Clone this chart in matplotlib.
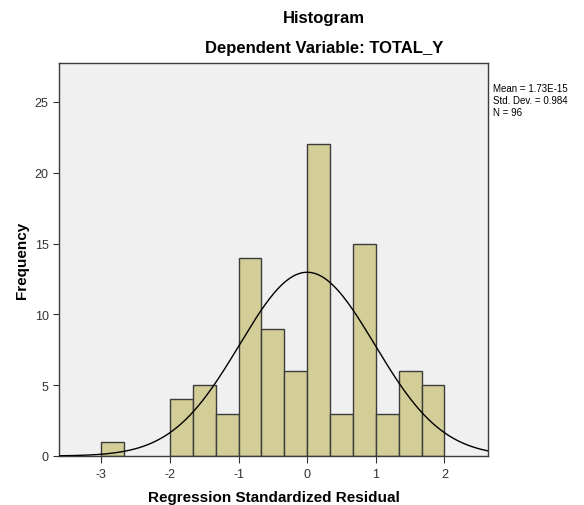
import matplotlib
matplotlib.use("Agg")
import matplotlib.pyplot as plt
import numpy as np

plt.rcParams["font.family"] = ["Liberation Sans", "DejaVu Sans"]
plt.rcParams["axes.unicode_minus"] = False

# 直方图数据（组宽 1/3）
bin_left = [-3.0, -2.0, -5/3, -4/3, -1.0, -2/3, -1/3, 0.0, 1/3, 2/3, 1.0, 4/3, 5/3]
counts = [1, 4, 5, 3, 14, 9, 6, 22, 3, 15, 3, 6, 5]
bin_width = 1/3
mean = 1.73e-15
std = 0.984
n = 96

fig = plt.figure(figsize=(5.84, 5.06), dpi=100)
ax = fig.add_axes([59/584, 1 - 457/506, (488 - 59)/584, (457 - 64)/506])
ax.set_facecolor("#F0F0F0")

ax.bar(bin_left, counts, width=bin_width, align="edge",
       color="#D3CE97", edgecolor="#3C3C3C", linewidth=1.0, zorder=2)

xs = np.linspace(-3.62, 2.64, 400)
ys = n * bin_width / (std * np.sqrt(2 * np.pi)) * np.exp(-0.5 * ((xs - mean) / std) ** 2)
ax.plot(xs, ys, color="black", linewidth=1.0, zorder=3)

ax.set_xlim(-3.615, 2.634)
ax.set_ylim(0, 27.75)
ax.set_xticks([-3, -2, -1, 0, 1, 2])
ax.set_yticks([0, 5, 10, 15, 20, 25])
ax.tick_params(labelsize=9, colors="#333333", length=4, width=0.8)
ax.tick_params(axis="x", length=5)
for s in ax.spines.values():
    s.set_color("#3C3C3C")
    s.set_linewidth(1.0)

ax.set_xlabel("Regression Standardized Residual", fontsize=11, fontweight="bold", labelpad=7)
ax.set_ylabel("Frequency", fontsize=11, fontweight="bold", labelpad=4)

fig.text(324/584, 1 - 18/506, "Histogram", ha="center", va="center",
         fontsize=12, fontweight="bold")
fig.text(324/584, 1 - 48/506, "Dependent Variable: TOTAL_Y", ha="center", va="center",
         fontsize=12, fontweight="bold")
fig.text(493/584, 1 - 84/506, "Mean = 1.73E-15\nStd. Dev. = 0.984\nN = 96",
         ha="left", va="top", fontsize=7, linespacing=1.25)

fig.savefig("out.png", dpi=100)
